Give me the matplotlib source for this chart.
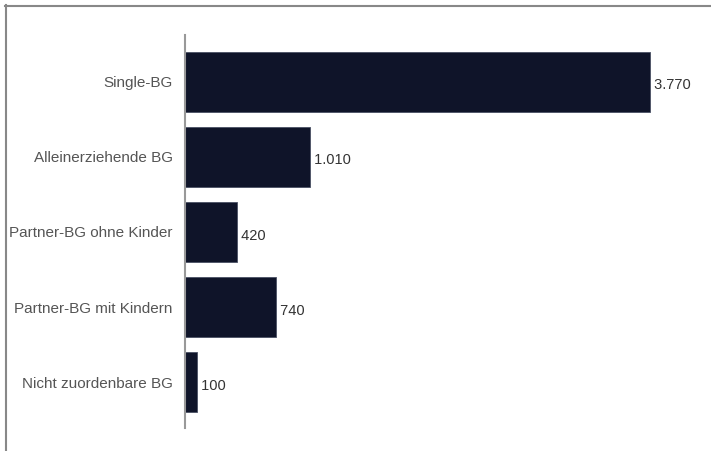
import matplotlib.pyplot as plt
from matplotlib.lines import Line2D

# data
categories = ['Single-BG', 'Alleinerziehende BG', 'Partner-BG ohne Kinder',
              'Partner-BG mit Kindern', 'Nicht zuordenbare BG']
values = [3770, 1010, 420, 740, 100]

plt.rcParams['font.family'] = ['Liberation Sans', 'DejaVu Sans']

fig = plt.figure(figsize=(7.11, 4.51), dpi=100)
# axes placed in pixel terms: left 185, top 35, bottom 428
ax = fig.add_axes([185 / 711, 1 - 428 / 451, 520 / 711, 393 / 451])

pos = list(range(len(categories)))
ax.barh(pos, values, height=0.8, color='#0f1429', edgecolor='#4a5064', linewidth=0.6)

for p, v in zip(pos, values):
    label = f'{v:,}'.replace(',', '.')
    ax.text(v, p + 0.05, ' ' + label, va='center', ha='left', fontsize=10.5, color='#333333')

ax.set_yticks(pos)
ax.set_yticklabels(categories, fontsize=11, color='#555555')
ax.set_ylim(4.61, -0.62)
ax.set_xlim(0, 4217)
ax.set_xticks([])
ax.tick_params(axis='y', length=0, pad=9)

for s in ['top', 'right', 'bottom']:
    ax.spines[s].set_visible(False)
ax.spines['left'].set_color('#999999')
ax.spines['left'].set_linewidth(1.5)

# grey frame at top and left of the picture
fig.add_artist(Line2D([5 / 711, 1], [1 - 5.5 / 451, 1 - 5.5 / 451], color='#888888', linewidth=1.5))
fig.add_artist(Line2D([5.5 / 711, 5.5 / 711], [0, 1 - 5 / 451], color='#888888', linewidth=1.5))

fig.savefig('out.png', dpi=100)
